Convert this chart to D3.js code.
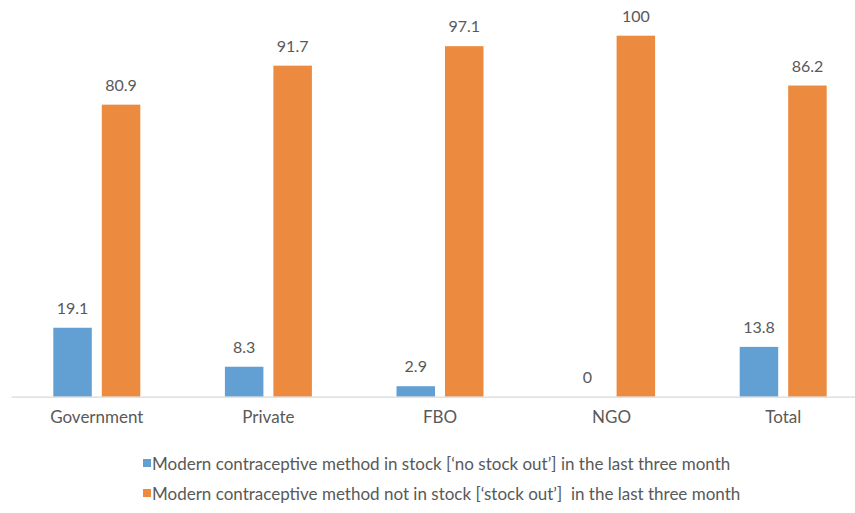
<!DOCTYPE html>
<html>
<head>
<meta charset="utf-8">
<script src="https://cdn.jsdelivr.net/npm/d3@7"></script>
<style>
  html, body { margin: 0; padding: 0; background: #ffffff; }
  svg text { font-family: Lato, "Open Sans", sans-serif; fill: #595959; }
</style>
</head>
<body>
<svg id="chart" width="855" height="513"></svg>
<script>
// Facility types along the x axis
const categories = ["Government", "Private", "FBO", "NGO", "Total"];
// Percent of facilities by stock status
const noStockOut = [19.1, 8.3, 2.9, 0, 13.8];
const stockOut = [80.9, 91.7, 97.1, 100, 86.2];
const seriesNames = [
  "Modern contraceptive method in stock [\u2018no stock out\u2019] in the last three month",
  "Modern contraceptive method not in stock [\u2018stock out\u2019]  in the last three month"
];
const seriesColors = ["#62A0D4", "#EC8B3F"];

const seriesValues = [noStockOut, stockOut];
const rows = categories.map((c, i) => ({
  category: c,
  values: seriesValues.map((vals, s) => ({ series: s, value: vals[i] }))
}));

const svg = d3.select("#chart");

const x0 = d3.scaleBand().domain(categories).range([11, 869]).padding(0);
const step = x0.bandwidth();
const groupW = 87;
const x1 = d3.scaleBand()
  .domain(d3.range(seriesValues.length))
  .range([(step - groupW) / 2, (step + groupW) / 2])
  .paddingInner(0.206);
const y = d3.scaleLinear().domain([0, 100]).range([396.7, 35.7]);

// Bars
const groups = svg.append("g").selectAll("g")
  .data(rows).join("g")
  .attr("transform", d => `translate(${x0(d.category)},0)`);

groups.selectAll("rect")
  .data(d => d.values).join("rect")
  .attr("x", d => x1(d.series))
  .attr("width", x1.bandwidth())
  .attr("y", d => y(d.value))
  .attr("height", d => y(0) - y(d.value))
  .attr("fill", d => seriesColors[d.series]);

// Value labels
groups.selectAll("text.value")
  .data(d => d.values).join("text")
  .attr("class", "value")
  .attr("x", d => x1(d.series) + x1.bandwidth() / 2)
  .attr("y", d => y(d.value) - 14)
  .attr("text-anchor", "middle")
  .attr("font-size", 16)
  .text(d => d.value);

// Category axis
const axis = svg.append("g")
  .attr("transform", `translate(0,${y(0)})`)
  .call(d3.axisBottom(x0).tickSize(0).tickPadding(14));
axis.select(".domain").attr("stroke", "#d9d9d9").attr("stroke-width", 1.2);
axis.selectAll(".tick text")
  .attr("font-size", 17)
  .attr("font-family", "Lato, 'Open Sans', sans-serif")
  .attr("fill", "#595959");

// Legend
const legend = svg.append("g").selectAll("g")
  .data(seriesNames).join("g")
  .attr("transform", (d, i) => `translate(143,${464 + i * 30})`);
legend.append("rect")
  .attr("x", 0).attr("y", -5)
  .attr("width", 8).attr("height", 8)
  .attr("fill", (d, i) => seriesColors[i]);
legend.append("text")
  .attr("x", 9)
  .attr("y", 5.5)
  .attr("font-size", 17)
  .style("white-space", "pre")
  .text(d => d);
</script>
</body>
</html>
